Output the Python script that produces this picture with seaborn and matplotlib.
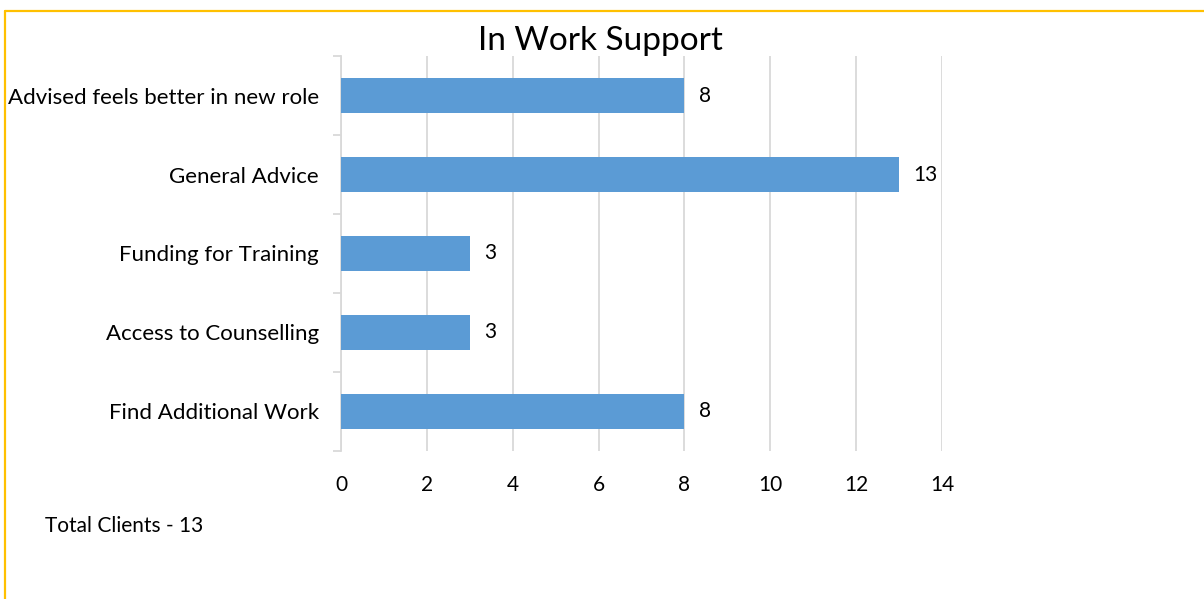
import matplotlib
matplotlib.use("Agg")
import matplotlib.pyplot as plt
import seaborn as sns
import pandas as pd
from matplotlib.lines import Line2D

# data
categories = [
    "Advised feels better in new role",
    "General Advice",
    "Funding for Training",
    "Access to Counselling",
    "Find Additional Work",
]
clients = [8, 13, 3, 3, 8]
x_ticks = [0, 2, 4, 6, 8, 10, 12, 14]
total_note = "Total Clients - 13"

df = pd.DataFrame({"category": categories, "clients": clients})

sns.set_style("white")
plt.rcParams["font.family"] = ["Lato", "DejaVu Sans"]

fig = plt.figure(figsize=(12.04, 5.99), dpi=100)
ax = fig.add_axes([0.2832, 0.2471, 0.4992, 0.6594])

sns.barplot(data=df, x="clients", y="category", orient="h", color="#5B9BD5",
            width=0.45, saturation=1, linewidth=0, ax=ax, zorder=3)

ax.set_xlim(0, 14)
ax.set_ylim(4.5, -0.5)
ax.set_xticks(x_ticks)
ax.xaxis.grid(True, color="#D9D9D9", linewidth=1.3, zorder=0)
ax.set_axisbelow(True)

for s in ["top", "right", "bottom"]:
    ax.spines[s].set_visible(False)
ax.spines["left"].set_color("#D9D9D9")
ax.spines["left"].set_linewidth(1.3)

ax.set_xlabel("")
ax.set_ylabel("")
ax.tick_params(axis="x", length=0, pad=17, labelsize=15, labelcolor="#000000")
ax.tick_params(axis="y", which="major", length=0, pad=16, labelsize=16, labelcolor="#000000")
ax.set_yticks([i - 0.5 for i in range(len(categories) + 1)], minor=True)
ax.tick_params(axis="y", which="minor", left=True, direction="out", length=6,
               width=1.3, color="#D9D9D9")

for i, v in enumerate(clients):
    ax.annotate(str(v), (v, i), xytext=(10.5, 0), textcoords="offset points",
                va="center", ha="left", fontsize=15, color="#000000")

fig.text(0.499, 0.932, "In Work Support", ha="center", va="center", fontsize=24, color="#000000")
fig.text(0.037, 0.122, total_note, ha="left", va="center", fontsize=15, color="#000000")

# gold frame on top and left edges
fig.add_artist(Line2D([0.0045, 1.0], [0.981, 0.981], transform=fig.transFigure,
                      color="#FFC000", linewidth=1.6))
fig.add_artist(Line2D([0.0045, 0.0045], [0.0, 0.981], transform=fig.transFigure,
                      color="#FFC000", linewidth=1.6))

fig.savefig("out.png", dpi=100)
plt.close()
